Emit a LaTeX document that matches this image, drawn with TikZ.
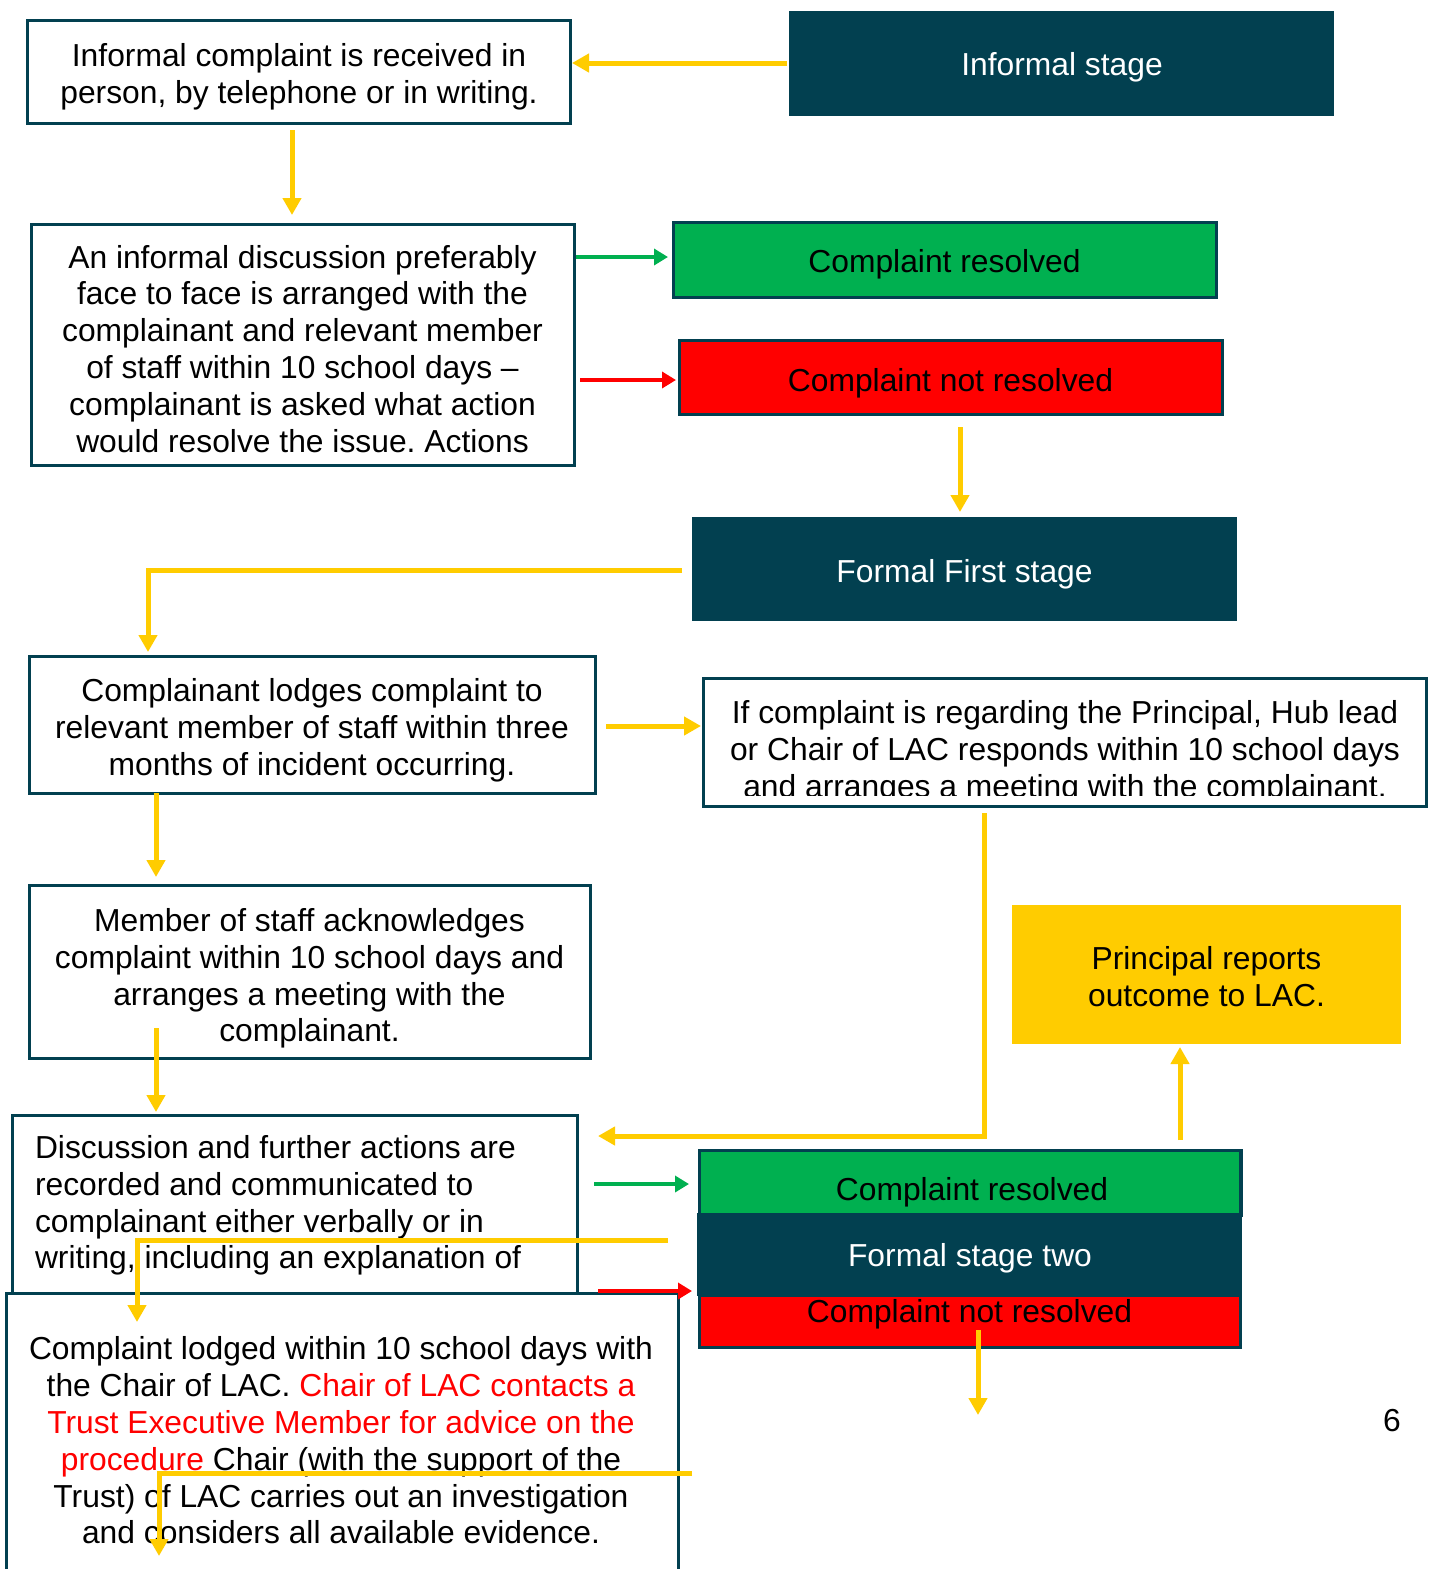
\documentclass[tikz,border=0pt]{standalone}
\usepackage{fontspec}
\setmainfont{Liberation Sans}
\usetikzlibrary{arrows.meta}
\definecolor{dk}{RGB}{2,64,80}
\definecolor{yl}{RGB}{255,204,0}
\definecolor{gr}{RGB}{0,176,80}
\definecolor{rd}{RGB}{255,0,0}
\frenchspacing
\begin{document}
\begin{tikzpicture}[x=1pt,y=-1pt,
  every node/.style={font=\fontsize{31.8}{36.8}\selectfont, inner sep=0pt, outer sep=0pt},
  sz/.style 2 args={minimum width=#1pt, minimum height=#2pt},
  wbox/.style={draw=dk, line width=3pt, fill=white},
  dbox/.style={fill=dk},
  gbox/.style={draw=dk, line width=3pt, fill=gr},
  rbox/.style={draw=dk, line width=3pt, fill=rd},
  ybox/.style={fill=yl},
  txt/.style={align=center, yshift=-1.5pt},
  ltxt/.style={align=left, anchor=west, yshift=-1.5pt},
  lab/.style={anchor=base, yshift=-1pt},
  wlab/.style={anchor=base, text=white, yshift=-1pt},
  yarrow/.style={draw=yl, line width=5pt, -{Triangle[length=17pt,width=18pt]}},
  yline/.style={draw=yl, line width=5pt},
  garrow/.style={draw=gr, line width=4pt, -{Triangle[length=14pt,width=16pt]}},
  rarrow/.style={draw=rd, line width=4pt, -{Triangle[length=14pt,width=16pt]}},
]
\clip (0,0) rectangle (1432,1569);
\fill[white] (0,0) rectangle (1432,1569);

% ---------- boxes ----------
\node[wbox, sz={543}{103}] (b1) at (298.5,71.5) {};
\node[txt] (b1t) at (299,76) {\strut Informal complaint is received in\\person, by telephone or in writing.\strut};

\node[dbox, sz={545}{105}] (inf) at (1061.5,63.5) {};
\node[wlab] (inft) at (1062,74) {Informal stage};

\node[wbox, sz={543}{241}] (b2) at (302.5,344.5) {};
\node[txt] (b2t) at (302.5,351.3) {\strut An informal discussion preferably\\face to face is arranged with the\\complainant and relevant member\\of staff within 10 school days –\\complainant is asked what action\\would resolve the issue. Actions\strut};

\node[gbox, sz={543}{75}] (res1) at (944.5,259.5) {};
\node[lab] (res1t) at (944.5,271) {Complaint resolved};

\node[rbox, sz={543}{74}] (nres1) at (950.5,377) {};
\node[lab] (nres1t) at (950.5,390) {Complaint not resolved};

\node[dbox, sz={545}{104}] (ffs) at (964.5,569) {};
\node[wlab] (ffst) at (964.5,581) {Formal First stage};

\node[wbox, sz={566}{137}] (b3) at (312,724.5) {};
\node[txt] (b3t) at (312,729.4) {\strut Complainant lodges complaint to\\relevant member of staff within three\\months of incident occurring.\strut};

\node[wbox, sz={723}{128}] (b4) at (1064.5,742) {};
\begin{scope}
  \clip (b4.north west) rectangle ([yshift=11pt]b4.south east);
  \node[txt] (b4t) at (1065,751.4) {\strut If complaint is regarding the Principal, Hub lead\\or Chair of LAC responds within 10 school days\\and arranges a meeting with the complainant.\strut};
\end{scope}

\node[wbox, sz={561}{173}] (b5) at (309.5,971.5) {};
\node[txt] (b5t) at (309.5,977.8) {\strut Member of staff acknowledges\\complaint within 10 school days and\\arranges a meeting with the\\complainant.\strut};

\node[ybox, sz={389}{139}] (pr) at (1206.5,974.5) {};
\node[txt] (prt) at (1206.5,979) {\strut Principal reports\\outcome to LAC.\strut};

\node[wbox, sz={565}{225}] (b6) at (294.5,1227.5) {};
\node[ltxt] (b6t) at (35,1204.8) {\strut Discussion and further actions are\\recorded and communicated to\\complainant either verbally or in\\writing, including an explanation of\strut};

\node[gbox, sz={542}{65}] (res2) at (970,1182.5) {};
\node[dbox, sz={545}{83}] (fs2) at (969.5,1254.5) {};
\node[rbox, sz={541}{52}] (nres2) at (969.5,1321) {};
\fill[dk] (fs2.north west) rectangle (fs2.south east);
\draw[dk, line width=3pt] (res2.north west) rectangle (nres2.south east);
\node[lab] (res2t) at (972,1199) {Complaint resolved};
\node[wlab] (fs2t) at (970,1265.7) {Formal stage two};
\node[lab] (nres2t) at (969.5,1321.7) {Complaint not resolved};

\node[wbox, sz={672}{327}] (b7) at (342,1456.5) {};
\node[txt] (b7t) at (341,1443) {\strut Complaint lodged within 10 school days with\\the Chair of LAC. \textcolor{rd}{Chair of LAC contacts a}\\\textcolor{rd}{Trust Executive Member for advice on the}\\\textcolor{rd}{procedure} Chair (with the support of the\\Trust) of LAC carries out an investigation\\and considers all available evidence.\strut};

\node[lab] (pg) at (1392,1430) {6};

% ---------- connectors ----------
\draw[yarrow] ([xshift=-2pt,yshift=0.5pt]inf.west) -- ([xshift=2pt,yshift=8.5pt]b1.east);
\draw[yarrow] ([xshift=-6.5pt,yshift=-7pt]b1.south) -- ([xshift=-10.5pt,yshift=9pt]b2.north);
\draw[garrow] ([xshift=2pt,yshift=87.5pt]b2.east) -- ([xshift=-5pt,yshift=2.5pt]res1.west);
\draw[rarrow] ([xshift=6pt,yshift=-35.5pt]b2.east) -- ([xshift=-3pt,yshift=-3pt]nres1.west);
\draw[yarrow] ([xshift=9.5pt,yshift=-13pt]nres1.south) -- ([xshift=-4.5pt,yshift=5pt]ffs.north);
\draw[yarrow] ([xshift=-10pt,yshift=-1pt]ffs.west) -| ([xshift=-164pt,yshift=4pt]b3.north);
\draw[yarrow] ([xshift=11pt,yshift=-1.5pt]b3.east) -- ([xshift=-2pt,yshift=16pt]b4.west);
\draw[yarrow] ([xshift=-156pt]b3.south) -- ([xshift=-153.5pt,yshift=8pt]b5.north);
\draw[yarrow] ([xshift=-153.5pt,yshift=30pt]b5.south) -- ([xshift=-138.5pt,yshift=3pt]b6.north);
\draw[yarrow] ([xshift=-80.5pt,yshift=-7pt]b4.south) |- ([xshift=21pt,yshift=91.5pt]b6.east);
\draw[yarrow] ([xshift=210pt,yshift=10pt]res2.north) -- ([xshift=-26.5pt,yshift=-3pt]pr.south);
\draw[garrow] ([xshift=17pt,yshift=43.5pt]b6.east) -- ([xshift=-10pt,yshift=-1.5pt]res2.west);
\draw[rarrow] ([xshift=21pt,yshift=-63.5pt]b6.east) -- ([xshift=-5pt,yshift=-36.5pt]fs2.west);
\draw[yarrow] ([xshift=-29pt,yshift=14.5pt]fs2.west) -| ([xshift=-205pt,yshift=-29pt]b7.north);
\draw[yarrow] ([xshift=8.5pt,yshift=-35pt]nres2.north) -- ([xshift=8.5pt,yshift=-68pt]nres2.south);
\draw[yarrow] ([xshift=14pt,yshift=-16.5pt]b7.east) -| ([xshift=-183pt,yshift=-263pt]b7.north);
\end{tikzpicture}
\end{document}
